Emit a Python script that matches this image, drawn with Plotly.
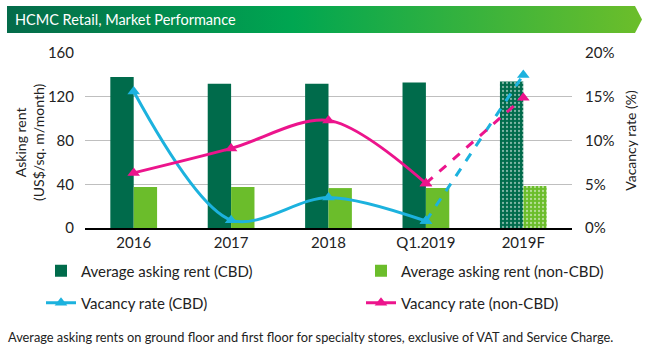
import base64
import plotly.graph_objects as go

categories = ["2016", "2017", "2018", "Q1.2019", "2019F"]
rent_cbd = [138, 132, 132, 133, 134]
rent_non_cbd = [37.5, 37.5, 36.5, 36.5, 38.5]
vac_cbd = [15.6, 0.9, 3.5, 0.8, 17.5]
vac_non_cbd = [6.3, 9.1, 12.3, 5.1, 14.9]
left_ticks = [0, 40, 80, 120, 160]
right_ticks = [0, 5, 10, 15, 20]
right_labels = ["0%", "5%", "10%", "15%", "20%"]

DARK = "#006B4B"
LIGHT = "#6BBD2B"
CYAN = "#1CB2DE"
PINK = "#EC148C"
FONT = "Lato, 'DejaVu Sans', sans-serif"

pattern = [""] * (len(categories) - 1) + ["."]

fig = go.Figure()
fig.add_trace(go.Bar(
    x=categories, y=rent_cbd, name="Average asking rent (CBD)",
    marker=dict(color=DARK, line=dict(width=0),
                pattern=dict(shape=pattern, fgcolor="white", bgcolor=DARK, size=4, solidity=0.25)),
    legend="legend", offsetgroup="a",
))
fig.add_trace(go.Bar(
    x=categories, y=rent_non_cbd, name="Average asking rent (non-CBD)",
    marker=dict(color=LIGHT, line=dict(width=0),
                pattern=dict(shape=pattern, fgcolor="white", bgcolor=LIGHT, size=4, solidity=0.25)),
    legend="legend2", offsetgroup="b",
))

# solid smoothed actual series
fig.add_trace(go.Scatter(
    x=categories[:4], y=vac_cbd[:4], name="Vacancy rate (CBD)", yaxis="y2",
    mode="lines+markers", line=dict(color=CYAN, width=3, shape="spline", smoothing=0.9),
    marker=dict(symbol="triangle-up", size=11, color=CYAN), legend="legend3",
))
fig.add_trace(go.Scatter(
    x=categories[:4], y=vac_non_cbd[:4], name="Vacancy rate (non-CBD)", yaxis="y2",
    mode="lines+markers", line=dict(color=PINK, width=3, shape="spline", smoothing=0.9),
    marker=dict(symbol="triangle-up", size=11, color=PINK), legend="legend4",
))
# dashed forecast segments
fig.add_trace(go.Scatter(
    x=categories[3:], y=vac_cbd[3:], yaxis="y2", showlegend=False,
    mode="lines+markers", line=dict(color=CYAN, width=3, dash="dash"),
    marker=dict(symbol="triangle-up", size=11, color=CYAN),
))
fig.add_trace(go.Scatter(
    x=categories[3:], y=vac_non_cbd[3:], yaxis="y2", showlegend=False,
    mode="lines+markers", line=dict(color=PINK, width=3, dash="dash"),
    marker=dict(symbol="triangle-up", size=11, color=PINK),
))

svg = '''<svg xmlns="http://www.w3.org/2000/svg" width="636" height="27" viewBox="0 0 636 27">
<defs><linearGradient id="g" x1="0" y1="0" x2="1" y2="0">
<stop offset="0" stop-color="#046B4A"/><stop offset="0.45" stop-color="#00A651"/>
<stop offset="1" stop-color="#6CBE2A"/></linearGradient></defs>
<polygon points="0,0 628,0 635,13.5 628,27 0,27" fill="url(#g)"/></svg>'''
src = "data:image/svg+xml;base64," + base64.b64encode(svg.encode()).decode()

W, H = 664, 359
L, R, T, B = 85, 92, 53, 131
pw, ph = W - L - R, H - T - B

def px(x):
    return (x - L) / pw

def py(y):
    return (H - B - y) / ph

def leg(x, y):
    return dict(orientation="h", xref="container", yref="container",
                x=x / W, y=1 - y / H, xanchor="left", yanchor="middle",
                font=dict(size=15), itemwidth=30, bgcolor="rgba(0,0,0,0)")

fig.update_layout(
    width=W, height=H, margin=dict(l=L, r=R, t=T, b=B, autoexpand=False),
    paper_bgcolor="white", plot_bgcolor="white",
    font=dict(family=FONT, size=14, color="#222"),
    barmode="group", bargap=0.52, bargroupgap=0,
    xaxis=dict(showline=True, linecolor="black", linewidth=1.5, ticks="",
               tickfont=dict(size=15), showgrid=False),
    yaxis=dict(range=[0, 160], tickvals=left_ticks, showgrid=True, gridcolor="#BFBFBF",
               gridwidth=1, zeroline=False, ticks="", ticklabelstandoff=10,
               tickfont=dict(size=15)),
    yaxis2=dict(range=[0, 20], tickvals=right_ticks, ticktext=right_labels, overlaying="y", side="right",
                showgrid=False, zeroline=False, ticks="", ticklabelstandoff=12,
                tickfont=dict(size=15),
                title=dict(text="Vacancy rate (%)", font=dict(size=14), standoff=12)),
    legend=leg(41, 271),
    legend2=leg(361, 271),
    legend3=leg(41, 303),
    legend4=leg(361, 303),
    images=[dict(source=src, xref="paper", yref="paper", x=px(7), y=py(6),
                 sizex=636 / pw, sizey=27 / ph, xanchor="left", yanchor="top",
                 sizing="stretch", layer="below")],
    annotations=[
        dict(text="HCMC Retail, Market Performance", xref="paper", yref="paper",
             x=px(13), y=py(19.5), xanchor="left", yanchor="middle", showarrow=False,
             font=dict(family=FONT, size=14.5, color="white")),
        dict(text="Asking rent<br>(US$/sq. m/month)", xref="paper", yref="paper",
             x=px(29), y=py(142), xanchor="center", yanchor="middle", showarrow=False,
             textangle=-90, font=dict(family=FONT, size=14, color="#222")),
        dict(text="Average asking rents on ground floor and first floor for specialty stores, exclusive of VAT and Service Charge.",
             xref="paper", yref="paper", x=px(6), y=py(337), xanchor="left", yanchor="middle",
             showarrow=False, font=dict(family=FONT, size=12.8, color="#222")),
    ],
)

fig.write_html("out.html", config={"displayModeBar": False},
               post_script="document.body.style.margin='0';document.body.style.overflow='hidden';")
